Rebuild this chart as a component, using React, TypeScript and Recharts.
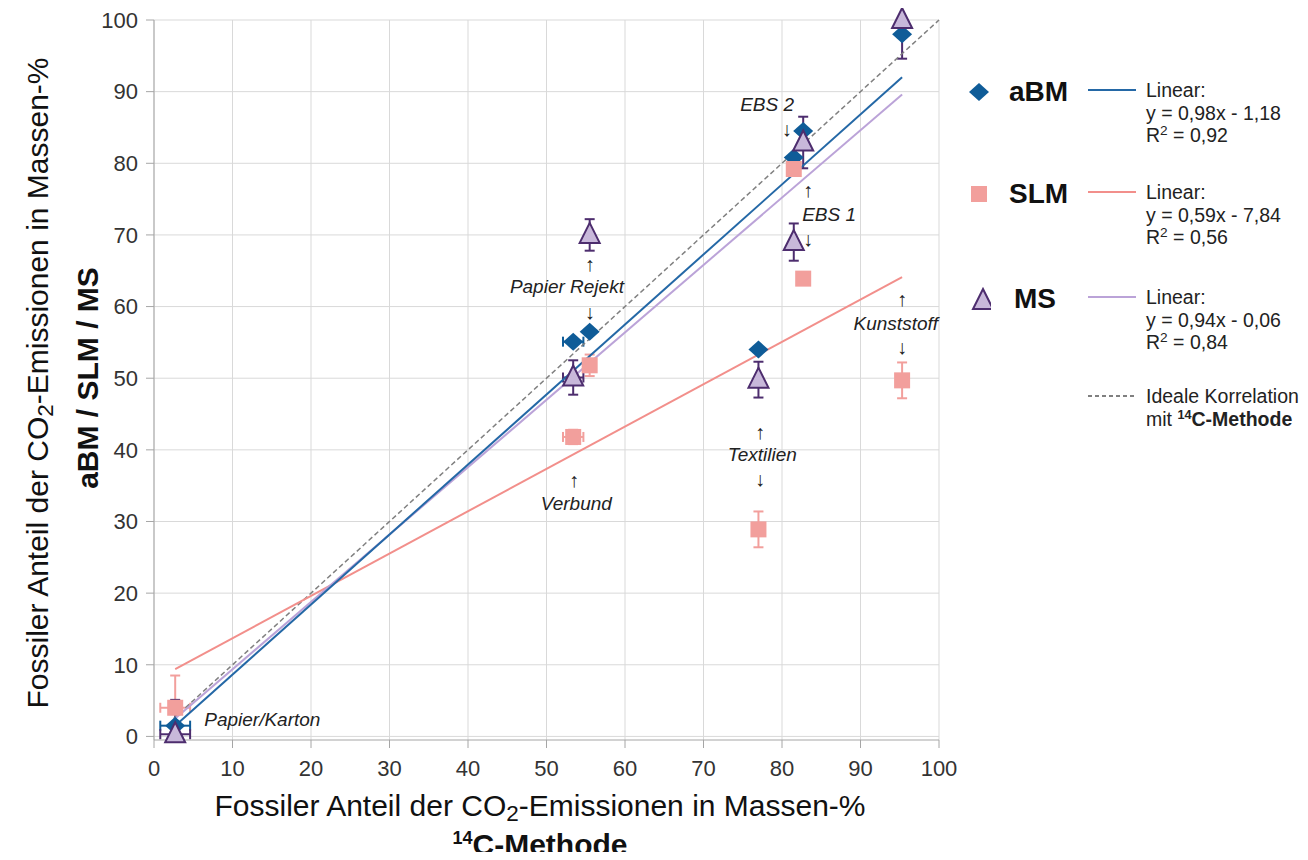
import React from 'react'
import { ScatterChart, Scatter, XAxis, YAxis, CartesianGrid, ErrorBar } from 'recharts'

// 14C-Methode (x) und Messwerte der drei Verfahren (y), je Material
const materials = ['Papier/Karton', 'Verbund', 'Papier Rejekt', 'Textilien', 'EBS 2', 'EBS 1', 'Kunststoff']
const c14 = [2.7, 53.4, 55.5, 77.0, 81.5, 82.7, 95.3]
const c14Err = [1.9, 1.3, null, null, null, null, null]

const aBM = [1.5, 55.1, 56.5, 54.0, 80.8, 84.5, 98.0]
const aBMErr = [null, null, null, null, null, null, null]
const SLM = [4.0, 41.8, 51.8, 28.9, 79.2, 63.9, 49.7]
const SLMErr = [4.5, 1.0, 1.5, 2.5, null, null, 2.5]
const MS = [0.3, 50.1, 70.0, 49.8, 69.0, 82.9, 100.0]
const MSErr: (number | number[] | null)[] = [[0, 4.8], 2.4, 2.2, 2.5, 2.6, 3.6, [5.4, 0]]

const fitX = [2.7, 95.3]
const aBMFitY = [1.5, 92.0]
const SLMFitY = [9.4, 64.1]
const MSFitY = [2.5, 89.6]
const idealX = [2.5, 100]
const idealY = [2.5, 100]

const xTicks = [0, 10, 20, 30, 40, 50, 60, 70, 80, 90, 100]
const yTicks = [0, 10, 20, 30, 40, 50, 60, 70, 80, 90, 100]

// Beschriftungen im Diagramm (Datenkoordinaten)
const notes = [
  { text: 'Papier/Karton', x: 6.4, y: 2.4, anchor: 'start' },
  { text: '↑', x: 55.5, y: 66.0, anchor: 'middle' },
  { text: 'Papier Rejekt', x: 52.6, y: 62.8, anchor: 'middle' },
  { text: '↓', x: 55.5, y: 59.2, anchor: 'middle' },
  { text: '↑', x: 53.5, y: 35.8, anchor: 'middle' },
  { text: 'Verbund', x: 53.8, y: 32.5, anchor: 'middle' },
  { text: '↑', x: 77.2, y: 42.5, anchor: 'middle' },
  { text: 'Textilien', x: 77.5, y: 39.3, anchor: 'middle' },
  { text: '↓', x: 77.2, y: 35.9, anchor: 'middle' },
  { text: 'EBS 2', x: 78.1, y: 88.2, anchor: 'middle' },
  { text: '↓', x: 80.6, y: 84.8, anchor: 'middle' },
  { text: '↑', x: 83.3, y: 76.3, anchor: 'middle' },
  { text: 'EBS 1', x: 86.0, y: 72.9, anchor: 'middle' },
  { text: '↓', x: 83.3, y: 69.5, anchor: 'middle' },
  { text: '↑', x: 95.3, y: 61.1, anchor: 'middle' },
  { text: 'Kunststoff', x: 94.5, y: 57.6, anchor: 'middle' },
  { text: '↓', x: 95.3, y: 54.3, anchor: 'middle' },
]

const BLUE = '#0f5c98'
const BLUE_LINE = '#2468a6'
const PINK = '#f29f9c'
const PINK_LINE = '#f28f8b'
const LILAC = '#c8b8da'
const LILAC_LINE = '#bba3d8'
const PURPLE = '#4d2d6e'

const sans = '"Liberation Sans", Arial, sans-serif'

const toPoints = (ys: number[], errs: any[]) =>
  c14.map((x, i) => ({ name: materials[i], x, y: ys[i], ex: c14Err[i], ey: errs[i] }))

const line = (xs: number[], ys: number[]) => xs.map((x, i) => ({ x, y: ys[i] }))

const Diamond = ({ cx, cy }: any) => (
  <polygon points={`${cx},${cy - 9} ${cx + 10},${cy} ${cx},${cy + 9} ${cx - 10},${cy}`} fill={BLUE} />
)
const Square = ({ cx, cy }: any) => <rect x={cx - 8} y={cy - 8} width={16} height={16} fill={PINK} />
const Triangle = ({ cx, cy }: any) => (
  <polygon
    points={`${cx},${cy - 12} ${cx + 10},${cy + 8} ${cx - 10},${cy + 8}`}
    fill={LILAC}
    stroke={PURPLE}
    strokeWidth={2}
    strokeLinejoin="miter"
  />
)
const Empty = () => <g />
const Note = ({ cx, cy, payload }: any) => {
  const arrow = payload.text === '↑' || payload.text === '↓'
  return (
    <text
      x={cx}
      y={cy}
      textAnchor={payload.anchor}
      dominantBaseline="central"
      fontFamily={sans}
      fontStyle={arrow ? 'normal' : 'italic'}
      fontSize={arrow ? 20 : 19}
      fill="#222"
    >
      {payload.text}
    </text>
  )
}

const tick = { fontSize: 22, fontFamily: sans, fill: '#333' }

const titleStyle = {
  position: 'absolute' as const,
  width: 800,
  height: 26,
  lineHeight: '26px',
  textAlign: 'center' as const,
  fontFamily: sans,
  fontSize: 30,
  color: '#111',
  whiteSpace: 'nowrap' as const,
}

const sub = <sub style={{ fontSize: '0.75em', verticalAlign: '-0.2em', lineHeight: 0 }}>2</sub>

const LegendRow = ({ top, marker, label, labelLeft, color, dashed, lines }: any) => (
  <div style={{ position: 'absolute', left: 0, top, width: 360 }}>
    <div style={{ position: 'absolute', left: 0, top: -12, width: 24, height: 24 }}>{marker}</div>
    {label && (
      <div
        style={{
          position: 'absolute',
          left: labelLeft,
          top: -18,
          fontFamily: sans,
          fontWeight: 'bold',
          fontSize: 28,
          lineHeight: '36px',
          color: '#111',
        }}
      >
        {label}
      </div>
    )}
    <svg style={{ position: 'absolute', left: 121, top: -5 }} width={50} height={6}>
      <line x1={0} y1={3} x2={48} y2={3} stroke={color} strokeWidth={2} strokeDasharray={dashed ? '4 3' : undefined} />
    </svg>
    <div
      style={{
        position: 'absolute',
        left: 179,
        top: -13,
        fontFamily: sans,
        fontSize: 19.5,
        lineHeight: '22.5px',
        color: '#222',
        whiteSpace: 'nowrap',
      }}
    >
      {lines}
    </div>
  </div>
)

export default function App() {
  return (
    <div style={{ position: 'relative', width: 1308, height: 860, margin: -8, background: '#fff', overflow: 'hidden' }}>
      <ScatterChart width={1308} height={860} margin={{ top: 20, right: 369, bottom: 80, left: 94 }}>
        <CartesianGrid stroke="#d9d9d9" strokeWidth={1} horizontalValues={yTicks} verticalValues={xTicks} />
        <XAxis
          type="number"
          dataKey="x"
          domain={[0, 100]}
          ticks={xTicks}
          interval={0}
          height={40}
          tick={tick}
          tickSize={8}
          tickMargin={12}
          axisLine={{ stroke: '#a6a6a6' }}
          tickLine={{ stroke: '#a6a6a6' }}
        />
        <YAxis
          type="number"
          dataKey="y"
          domain={[0, 100]}
          ticks={yTicks}
          interval={0}
          width={60}
          tick={tick}
          tickSize={8}
          tickMargin={8}
          axisLine={{ stroke: '#a6a6a6' }}
          tickLine={{ stroke: '#a6a6a6' }}
        />
        <Scatter data={line(idealX, idealY)} line={{ stroke: '#808080', strokeWidth: 1.5, strokeDasharray: '5 3' }} shape={Empty} isAnimationActive={false} />
        <Scatter data={line(fitX, SLMFitY)} line={{ stroke: PINK_LINE, strokeWidth: 2 }} shape={Empty} isAnimationActive={false} />
        <Scatter data={line(fitX, MSFitY)} line={{ stroke: LILAC_LINE, strokeWidth: 2 }} shape={Empty} isAnimationActive={false} />
        <Scatter data={line(fitX, aBMFitY)} line={{ stroke: BLUE_LINE, strokeWidth: 2 }} shape={Empty} isAnimationActive={false} />
        <Scatter data={toPoints(aBM, aBMErr)} shape={Diamond} isAnimationActive={false}>
          <ErrorBar dataKey="ex" direction="x" width={5} stroke={BLUE} strokeWidth={2} />
        </Scatter>
        <Scatter data={toPoints(SLM, SLMErr)} shape={Square} isAnimationActive={false}>
          <ErrorBar dataKey="ex" direction="x" width={5} stroke={PINK} strokeWidth={2} />
          <ErrorBar dataKey="ey" direction="y" width={5} stroke={PINK} strokeWidth={2} />
        </Scatter>
        <Scatter data={toPoints(MS, MSErr)} shape={Triangle} isAnimationActive={false}>
          <ErrorBar dataKey="ex" direction="x" width={5} stroke={PURPLE} strokeWidth={2} />
          <ErrorBar dataKey="ey" direction="y" width={5} stroke={PURPLE} strokeWidth={2} />
        </Scatter>
        <Scatter data={notes} shape={Note} isAnimationActive={false} />
      </ScatterChart>

      {/* Achsentitel */}
      <div style={{ ...titleStyle, left: 38 - 400, top: 383 - 13, transform: 'rotate(-90deg)' }}>
        Fossiler Anteil der CO{sub}-Emissionen in Massen-%
      </div>
      <div style={{ ...titleStyle, left: 88 - 400, top: 378 - 13, transform: 'rotate(-90deg)', fontWeight: 'bold' }}>
        aBM / SLM / MS
      </div>
      <div style={{ ...titleStyle, left: 140, top: 806 - 13 }}>
        Fossiler Anteil der CO{sub}-Emissionen in Massen-%
      </div>
      <div style={{ ...titleStyle, left: 140, top: 845 - 13, fontWeight: 'bold' }}>
        <sup style={{ fontSize: '0.6em', verticalAlign: '0.6em', lineHeight: 0 }}>14</sup>C-Methode
      </div>

      {/* Legende */}
      <div style={{ position: 'absolute', left: 967, top: 0 }}>
        <LegendRow
          top={92}
          marker={
            <svg width={24} height={24}>
              <Diamond cx={12} cy={12} />
            </svg>
          }
          label="aBM"
          labelLeft={42}
          color={BLUE_LINE}
          lines={
            <>
              Linear:<br />y = 0,98x - 1,18<br />R<sup style={{ fontSize: '0.7em', lineHeight: 0 }}>2</sup> = 0,92
            </>
          }
        />
        <LegendRow
          top={194}
          marker={
            <svg width={24} height={24}>
              <Square cx={12} cy={12} />
            </svg>
          }
          label="SLM"
          labelLeft={42}
          color={PINK_LINE}
          lines={
            <>
              Linear:<br />y = 0,59x - 7,84<br />R<sup style={{ fontSize: '0.7em', lineHeight: 0 }}>2</sup> = 0,56
            </>
          }
        />
        <LegendRow
          top={299}
          marker={
            <svg width={24} height={24}>
              <Triangle cx={16} cy={14} />
            </svg>
          }
          label="MS"
          labelLeft={47}
          color={LILAC_LINE}
          lines={
            <>
              Linear:<br />y = 0,94x - 0,06<br />R<sup style={{ fontSize: '0.7em', lineHeight: 0 }}>2</sup> = 0,84
            </>
          }
        />
        <LegendRow
          top={398}
          marker={null}
          color="#808080"
          dashed
          lines={
            <>
              Ideale Korrelation
              <br />
              mit <sup style={{ fontSize: '0.65em', fontWeight: 'bold', lineHeight: 0 }}>14</sup>
              <b>C-Methode</b>
            </>
          }
        />
      </div>
    </div>
  )
}
